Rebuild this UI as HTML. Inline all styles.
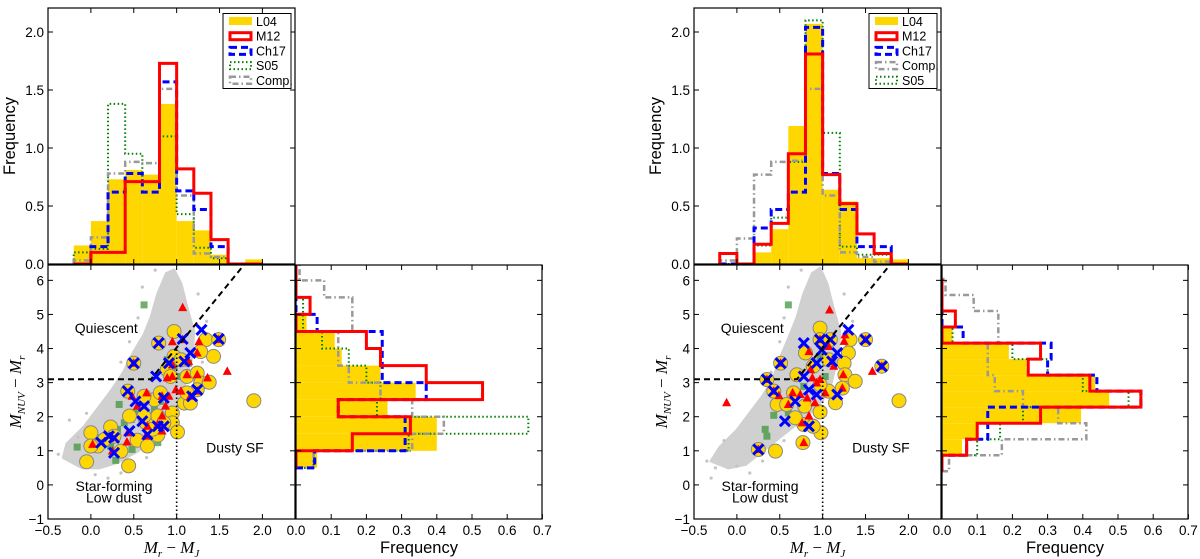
<!DOCTYPE html>
<html><head><meta charset="utf-8">
<style>
html,body{margin:0;padding:0;background:#fff;}
svg{display:block;font-family:"Liberation Sans",sans-serif;}
</style></head>
<body>
<svg id="fig" width="1200" height="559" viewBox="0 0 1200 559" xmlns="http://www.w3.org/2000/svg"></svg>
<script>
// ---------- DATA ----------
const topEdgesStart = -0.2, topBinW = 0.2;
// Left figure top histogram (bins -0.2..2.0)
const L_top_L04 = [0.16,0.37,0.73,0.81,0.77,1.38,0.37,0.29,0.08,0,0.04];
const L_top_M12 = [0,0.10,0.10,0.71,0.71,1.73,0.82,0.61,0.21,0,0];
const L_top_Ch17 = [0,0.15,0.62,0.78,0.62,1.57,0.63,0.47,0.15,0,0];
const L_top_S05 = [0.10,0.13,1.38,0.95,0.71,1.10,0.43,0.14,0.05,0,0];
const L_top_Comp = [0.03,0.23,0.78,0.88,0.87,1.51,0.59,0.09,0.06,0,0];
// Left figure side histogram (bins 0.5..6.5, width 0.5)
const L_sideStart = 0.5, L_sideW = 0.5;
const L_side_L04 = [0.06,0.40,0.40,0.26,0.34,0.24,0.13,0.11,0.03,0,0,0];
const L_side_M12 = [0,0.16,0.325,0.12,0.53,0.37,0.24,0.20,0,0.04,0,0];
const L_side_Ch17 = [0.053,0.31,0.31,0.12,0.37,0.245,0.245,0.245,0.06,0,0,0];
const L_side_S05 = [0.05,0.32,0.66,0.23,0.24,0.20,0.15,0.074,0.02,0.02,0,0];
const L_side_Comp = [0.05,0.33,0.42,0.33,0.24,0.15,0.12,0.12,0.16,0.16,0.08,0.01];
// Right figure top histogram
const R_top_L04 = [0,0,0.10,0.30,1.19,2.07,0.64,0.54,0.05,0.05,0.04];
const R_top_M12 = [0.09,0,0.17,0.35,0.95,1.81,0.77,0.52,0.26,0.09,0];
const R_top_Ch17 = [0,0,0.31,0.47,0.62,2.04,0.78,0.47,0.15,0.15,0];
const R_top_Comp = [0.03,0.22,0.77,0.88,0.89,1.51,0.59,0.10,0.06,0.02,0];
const R_top_S05 = [0,0,0.16,0.40,0.88,2.10,1.13,0.15,0.08,0.08,0];
// Right figure side histogram (bins from 0.40, width 0.47)
const R_sideStart = 0.40, R_sideW = 0.47;
const R_side_L04 = [0,0.057,0.10,0.395,0.475,0.435,0.24,0.19,0.03,0,0,0];
const R_side_M12 = [0,0.07,0.10,0.28,0.565,0.42,0.245,0.28,0,0.038,0,0];
const R_side_Ch17 = [0,0.07,0.13,0.13,0.565,0.44,0.30,0.31,0.06,0,0,0];
const R_side_S05 = [0,0.10,0.165,0.23,0.53,0.40,0.30,0.20,0.03,0,0,0];
const R_side_Comp = [0.02,0.17,0.41,0.33,0.23,0.15,0.13,0.13,0.16,0.16,0.09,0.01];
// Scatter data, left figure
const L_yelX=[0.0,-0.05,0.44,0.35,0.23,0.27,0.45,0.54,0.66,0.64,0.78,0.78,0.74,0.62,0.43,0.97,0.97,1.05,0.95,0.95,1.01,1.09,1.12,1.24,1.28,1.16,1.24,1.34,1.43,1.38,1.49,1.90,0.79,1.28,0.89,0.81,0.93,0.50,0.16,0.08,0.0,0.62,0.72,0.85,1.12];
const L_yelY=[1.53,0.68,0.56,0.99,1.70,1.43,2.02,1.31,1.14,1.84,1.46,2.02,2.50,2.60,2.75,4.50,3.77,3.67,2.11,1.82,1.55,2.40,3.18,3.28,2.99,2.40,2.79,4.26,3.77,3.01,4.26,2.47,4.16,3.91,3.38,2.70,3.18,3.57,1.33,1.14,1.14,2.02,1.63,1.82,2.70];
const L_triX=[0.5,0.95,1.07,1.26,1.59,1.24,1.12,1.24,0.95,0.89,0.91,0.83,0.87,0.65,0.48,0.54,0.66,0.78,0.83,0.83,0.43,0.42,0.02,0.25,0.64,1.24,1.16,1.05,1.14,1.36,0.95,0.99,1.49,1.07];
const L_triY=[3.57,4.2,5.2,4.2,3.33,3.87,3.23,3.23,3.52,3.14,2.6,2.6,2.31,2.7,2.6,2.31,1.72,1.77,2.02,1.58,1.53,1.26,1.19,0.99,1.43,2.75,2.6,2.75,3.62,3.14,3.18,2.79,4.26,4.26];
const L_crsX=[0.5,0.79,1.07,1.29,1.49,1.16,1.09,0.91,0.76,0.43,0.52,0.62,0.60,0.78,0.85,0.85,0.45,0.12,0.27,0.21,0.27,0.66,1.18,1.24];
const L_crsY=[3.57,4.16,4.28,4.55,4.28,3.87,3.62,3.57,3.18,2.75,2.45,2.31,1.87,1.72,1.72,2.55,1.58,1.24,1.38,1.43,0.94,1.48,2.6,2.79];
const L_sqX=[0.62,0.33,-0.16,0.0,0.48,0.78,0.29,0.23,0.31,0.47,0.54,0.39,0.74,0.97,1.05,0.89,1.14,0.81,0.23,0.12];
const L_sqY=[5.28,2.36,1.11,1.04,1.04,1.24,0.72,1.14,1.63,1.92,2.11,1.82,2.21,3.48,3.18,3.67,3.57,2.45,1.67,1.38];
const L_cloudX=[-0.32,-0.1,0.1,0.3,0.55,0.72,0.85,1.0,1.1,1.18,1.2,1.12,1.05,0.97,0.88,0.78,0.7,0.62,0.5,0.38,0.25,0.1,-0.08,-0.28];
const L_cloudY=[0.8,0.5,0.5,0.65,1.0,1.4,1.8,2.3,3.0,3.8,4.5,5.2,5.9,6.3,6.2,5.6,4.9,4.4,3.9,3.3,2.8,2.3,1.7,1.2];
const L_dotX=[-0.38,-0.25,-0.15,0.05,0.2,0.35,0.48,0.65,0.9,1.15,1.3,1.35,0.35,0.45,0.55,1.25,0.6,0.75,1.45,-0.05];
const L_dotY=[0.9,1.9,1.4,0.3,0.2,0.35,0.5,0.8,1.9,2.5,3.6,4.8,3.6,4.2,4.9,5.6,5.8,6.3,4.4,2.1];
// Scatter data, right figure
const R_yelX=[0.45,0.77,0.98,0.78,0.89,0.47,0.58,0.68,0.79,0.97,0.97,0.97,1.09,1.32,1.30,1.25,1.26,1.38,1.15,1.23,1.07,0.89,0.80,0.70,0.66,1.89,1.50,1.69,0.51,0.35,0.43,0.25,1.07,0.97];
const R_yelY=[0.99,1.24,1.53,1.77,1.72,2.36,2.36,1.97,2.31,2.14,4.6,4.26,4.26,4.26,3.87,3.57,3.23,3.04,2.41,2.84,2.75,3.48,3.87,3.23,2.70,2.47,4.26,3.48,3.57,3.09,2.75,1.04,3.67,2.94];
const R_triX=[-0.12,0.51,0.35,0.43,0.49,0.60,0.65,0.74,0.82,0.84,0.76,0.78,0.86,0.88,0.97,0.93,0.91,0.84,0.97,1.08,1.07,1.11,1.13,1.24,1.23,1.26,1.25,1.50,1.58,1.69,0.25,1.03];
const R_triY=[2.41,3.57,3.09,2.75,2.62,2.36,2.7,2.65,2.55,2.02,1.82,1.24,3.38,3.14,3.09,2.99,2.41,3.91,4.26,5.13,4.06,3.62,3.48,3.23,2.84,4.40,4.21,4.26,3.33,3.48,1.04,2.70];
const R_crsX=[0.35,0.51,0.43,0.56,0.68,0.78,0.97,1.09,1.30,1.17,1.11,0.93,0.78,0.84,0.93,1.17,0.84,1.50,1.69,0.25,0.99];
const R_crsY=[3.09,3.57,2.75,1.87,2.45,4.16,4.26,4.26,4.55,3.87,3.62,3.57,3.18,2.79,2.65,2.65,1.72,4.26,3.48,1.04,3.96];
const R_sqX=[0.60,0.43,0.33,0.35,0.47,0.60,0.78,0.97,1.03];
const R_sqY=[5.28,2.04,1.63,1.43,0.99,2.11,2.89,3.77,3.18];
const R_cloudX=[-0.3,-0.1,0.1,0.3,0.5,0.7,0.85,1.0,1.1,1.18,1.2,1.12,1.05,0.97,0.88,0.78,0.7,0.62,0.52,0.42,0.3,0.15,0.0,-0.2];
const R_cloudY=[0.7,0.5,0.6,1.0,1.4,1.8,2.1,2.5,3.0,3.8,4.5,5.2,5.9,6.35,6.2,5.6,4.9,4.4,3.8,3.1,2.6,2.1,1.6,1.1];
const R_dotX=[-0.35,-0.25,-0.15,0.0,0.15,0.3,0.45,0.55,0.9,1.15,1.3,1.35,0.4,0.5,0.55,1.25,0.6,0.75,1.45,-0.3];
const R_dotY=[0.7,0.5,1.3,0.55,0.35,0.7,0.9,1.3,1.9,2.5,3.6,4.8,3.3,4.2,4.9,5.6,5.8,6.3,4.4,0.2];

// ---------- DRAWING ----------
const NS="http://www.w3.org/2000/svg";
const svg=document.getElementById('fig');
function mk(tag,attrs,parent){const e=document.createElementNS(NS,tag);for(const k in attrs)e.setAttribute(k,attrs[k]);(parent||svg).appendChild(e);return e;}

const COL={L04:'#FFD700',M12:'#ff0000',Ch17:'#0000ff',S05:'#008000',Comp:'#999999'};
const STY={
 M12:{w:3,d:''},
 Ch17:{w:3,d:'7,4'},
 S05:{w:2,d:'1.5,2.5'},
 Comp:{w:2.5,d:'6,3,1.5,3'}
};

function drawFigure(id,ox,top,side,sideStart,sideW,sc,legendOrder,legX){
  const x0=ox, x1=ox+247, yT0=8, yT1=264, yS0=265, yS1=519, hx0=ox+248, hx1=ox+494;
  const xmin=-0.5,xmax=2.38,ymin=-1,ymax=6.45;
  const X=v=>x0+(v-xmin)/(xmax-xmin)*(x1-x0);
  const Y=v=>yS1-(v-ymin)/(ymax-ymin)*(yS1-yS0);
  const FT=f=>yT1-f*116;
  const FS=f=>hx0+f*352;
  const g=mk('g',{});
  
  
  const defs=mk('defs',{},g);
  const c1=mk('clipPath',{id:id+'-ct'},defs);mk('rect',{x:x0,y:yT0,width:x1-x0,height:yT1-yT0},c1);
  const c2=mk('clipPath',{id:id+'-cs'},defs);mk('rect',{x:x0,y:yS0,width:x1-x0,height:yS1-yS0},c2);
  const c3=mk('clipPath',{id:id+'-ch'},defs);mk('rect',{x:hx0,y:yS0,width:hx1-hx0,height:yS1-yS0},c3);

  // ----- top histogram -----
  const gt=mk('g',{'clip-path':`url(#${id}-ct)`},g);
  
  
  top.L04.forEach((v,i)=>{
    const a=topEdgesStart+i*topBinW;
    const r=mk('rect',{x:X(a),y:FT(v),width:X(a+topBinW)-X(a),height:FT(0)-FT(v),fill:COL.L04},gt);
    
    
  });
  ['S05','Comp','Ch17','M12'].forEach(k=>{
    const vals=top[k];let d=`M${X(topEdgesStart)},${FT(0)}`;
    vals.forEach((v,i)=>{const a=topEdgesStart+i*topBinW;d+=` L${X(a)},${FT(v)} L${X(a+topBinW)},${FT(v)}`;});
    d+=` L${X(topEdgesStart+vals.length*topBinW)},${FT(0)}`;
    const p=mk('path',{d:d,fill:'none',stroke:COL[k],'stroke-width':STY[k].w,'stroke-dasharray':STY[k].d},gt);
    
    
  });
  mk('rect',{x:x0,y:yT0,width:x1-x0,height:yT1-yT0,fill:'none',stroke:'#000','stroke-width':1.2},g);
  [0,0.5,1.0,1.5,2.0].forEach(t=>{
    mk('line',{x1:x0,x2:x0+5,y1:FT(t),y2:FT(t),stroke:'#000'},g);
    mk('line',{x1:x1,x2:x1-5,y1:FT(t),y2:FT(t),stroke:'#000'},g);
    const tx=mk('text',{x:x0-4,y:FT(t)+5,'text-anchor':'end','font-size':13.5},g);tx.textContent=t.toFixed(1);
    
    
  });
  [-0.5,0,0.5,1,1.5,2].forEach(t=>{
    mk('line',{x1:X(t),x2:X(t),y1:yT1,y2:yT1-5,stroke:'#000'},g);
    mk('line',{x1:X(t),x2:X(t),y1:yT0,y2:yT0+5,stroke:'#000'},g);
  });
  const yl=mk('text',{x:0,y:0,transform:`translate(${ox-33},${136}) rotate(-90)`,'text-anchor':'middle','font-size':16.5},g);
  yl.textContent='Frequency';
  
  

  // legend
  const lg=mk('g',{},g);
  
  
  mk('rect',{x:legX,y:13.5,width:68,height:75,fill:'#fff',stroke:'#000','stroke-width':1},lg);
  legendOrder.forEach((k,i)=>{
    const yy=21+i*14.7;
    const e=mk('g',{},lg);
    
    
    if(k==='L04') mk('rect',{x:legX+6,y:yy-4,width:23,height:8,fill:COL.L04},e);
    else mk('rect',{x:legX+7,y:yy-3,width:21,height:7,fill:'none',stroke:COL[k],'stroke-width':STY[k].w,'stroke-dasharray':STY[k].d},e);
    const t=mk('text',{x:legX+33,y:yy+5,'font-size':12.5},e);t.textContent=k==='Comp'?'Comp.':k;
  });

  // ----- scatter -----
  const gs=mk('g',{'clip-path':`url(#${id}-cs)`},g);
  
  
  let pts=sc.cloudX.map((v,i)=>X(v)+','+Y(sc.cloudY[i])).join(' ');
  const cl=mk('polygon',{points:pts,fill:'#d0d0d0',stroke:'#d0d0d0','stroke-width':3,'stroke-linejoin':'round'},gs);
  
  
  sc.dotX.forEach((v,i)=>{
    const c=mk('circle',{cx:X(v),cy:Y(sc.dotY[i]),r:1.6,fill:'#c4c4c4'},gs);
    
    
  });
  sc.sqX.forEach((v,i)=>{
    const r=mk('rect',{x:X(v)-3.5,y:Y(sc.sqY[i])-3.5,width:7,height:7,fill:'#3f963f','fill-opacity':0.75},gs);
    
    
  });
  sc.yelX.forEach((v,i)=>{
    const c=mk('circle',{cx:X(v),cy:Y(sc.yelY[i]),r:7,fill:'#FFD700',stroke:'#888','stroke-width':1},gs);
    
    
  });
  sc.triX.forEach((v,i)=>{
    const cx=X(v),cy=Y(sc.triY[i]);
    const t=mk('polygon',{points:`${cx},${cy-5} ${cx-4.5},${cy+3.5} ${cx+4.5},${cy+3.5}`,fill:'#ff0000'},gs);
    
    
  });
  sc.crsX.forEach((v,i)=>{
    const cx=X(v),cy=Y(sc.crsY[i]);
    const p=mk('path',{d:`M${cx-5},${cy-5}L${cx+5},${cy+5}M${cx-5},${cy+5}L${cx+5},${cy-5}`,stroke:'#0000ff','stroke-width':3},gs);
    
    
  });
  const dl=mk('path',{d:`M${X(-0.5)},${Y(3.1)} L${X(0.7)},${Y(3.1)} L${X(1.8)},${Y(6.5)}`,fill:'none',stroke:'#000','stroke-width':2,'stroke-dasharray':'6,4'},gs);
  
  
  const dv=mk('line',{x1:X(1.0),x2:X(1.0),y1:Y(-1),y2:Y(4.0),stroke:'#000','stroke-width':1.6,'stroke-dasharray':'1.5,2.5'},gs);
  
  
  [['Quiescent',0.18,4.45,'quiescent-label'],['Dusty SF',1.68,0.95,'dusty-sf-label'],['Star-forming',0.27,-0.18,'star-forming-label'],['Low dust',0.27,-0.52,'low-dust-label']].forEach(a=>{
    const t=mk('text',{x:X(a[1]),y:Y(a[2]),'text-anchor':'middle','font-size':14},g);t.textContent=a[0];
    
    
  });
  mk('rect',{x:x0,y:yS0,width:x1-x0,height:yS1-yS0,fill:'none',stroke:'#000','stroke-width':1.2},g);
  [-1,0,1,2,3,4,5,6].forEach(t=>{
    mk('line',{x1:x0,x2:x0+5,y1:Y(t),y2:Y(t),stroke:'#000'},g);
    mk('line',{x1:x1,x2:x1-5,y1:Y(t),y2:Y(t),stroke:'#000'},g);
    const tx=mk('text',{x:x0-4,y:Y(t)+5,'text-anchor':'end','font-size':13.5},g);tx.textContent=t<0?'\u2212'+Math.abs(t):t;
    
    
  });
  [-0.5,0,0.5,1,1.5,2].forEach(t=>{
    mk('line',{x1:X(t),x2:X(t),y1:yS1,y2:yS1-5,stroke:'#000'},g);
    mk('line',{x1:X(t),x2:X(t),y1:yS0,y2:yS0+5,stroke:'#000'},g);
    const tx=mk('text',{x:X(t),y:yS1+16,'text-anchor':'middle','font-size':13.5},g);tx.textContent=(t<0?'\u22120.5':t.toFixed(1));
    
    
  });
  const xl=mk('text',{x:(x0+x1)/2,y:553,'text-anchor':'middle','font-size':17,'font-family':'Liberation Serif, serif','font-style':'italic'},g);
  xl.innerHTML='M<tspan font-size="11" dy="4">r</tspan><tspan dy="-4" font-style="normal"> \u2212 </tspan>M<tspan font-size="11" dy="4">J</tspan>';
  
  
  const yl2=mk('text',{x:0,y:0,transform:`translate(${ox-27},${392}) rotate(-90)`,'text-anchor':'middle','font-size':17,'font-family':'Liberation Serif, serif','font-style':'italic'},g);
  yl2.innerHTML='M<tspan font-size="11" dy="4">NUV</tspan><tspan dy="-4" font-style="normal"> \u2212 </tspan>M<tspan font-size="11" dy="4">r</tspan>';
  
  

  // ----- side histogram -----
  const gh=mk('g',{'clip-path':`url(#${id}-ch)`},g);
  
  
  side.L04.forEach((v,i)=>{
    const a=sideStart+i*sideW;
    const r=mk('rect',{x:FS(0),y:Y(a+sideW),width:FS(v)-FS(0),height:Y(a)-Y(a+sideW),fill:COL.L04},gh);
    
    
  });
  ['S05','Comp','Ch17','M12'].forEach(k=>{
    const vals=side[k];let d=`M${FS(0)},${Y(sideStart)}`;
    vals.forEach((v,i)=>{const a=sideStart+i*sideW;d+=` L${FS(v)},${Y(a)} L${FS(v)},${Y(a+sideW)}`;});
    d+=` L${FS(0)},${Y(sideStart+vals.length*sideW)}`;
    const p=mk('path',{d:d,fill:'none',stroke:COL[k],'stroke-width':STY[k].w,'stroke-dasharray':STY[k].d},gh);
    
    
  });
  mk('rect',{x:hx0,y:yS0,width:hx1-hx0,height:yS1-yS0,fill:'none',stroke:'#000','stroke-width':1.2},g);
  [0,0.1,0.2,0.3,0.4,0.5,0.6,0.7].forEach(t=>{
    mk('line',{x1:FS(t),x2:FS(t),y1:yS1,y2:yS1-5,stroke:'#000'},g);
    mk('line',{x1:FS(t),x2:FS(t),y1:yS0,y2:yS0+5,stroke:'#000'},g);
    const tx=mk('text',{x:FS(t),y:yS1+16,'text-anchor':'middle','font-size':13.5},g);tx.textContent=t.toFixed(1);
    
    
  });
  [-1,0,1,2,3,4,5,6].forEach(t=>{
    mk('line',{x1:hx0,x2:hx0+5,y1:Y(t),y2:Y(t),stroke:'#000'},g);
    mk('line',{x1:hx1,x2:hx1-5,y1:Y(t),y2:Y(t),stroke:'#000'},g);
  });
  const fl=mk('text',{x:(hx0+hx1)/2,y:553,'text-anchor':'middle','font-size':16.5},g);
  fl.textContent='Frequency';
  
  
}

drawFigure('left-figure',48,
 {L04:L_top_L04,M12:L_top_M12,Ch17:L_top_Ch17,S05:L_top_S05,Comp:L_top_Comp},
 {L04:L_side_L04,M12:L_side_M12,Ch17:L_side_Ch17,S05:L_side_S05,Comp:L_side_Comp},
 L_sideStart,L_sideW,
 {yelX:L_yelX,yelY:L_yelY,triX:L_triX,triY:L_triY,crsX:L_crsX,crsY:L_crsY,sqX:L_sqX,sqY:L_sqY,cloudX:L_cloudX,cloudY:L_cloudY,dotX:L_dotX,dotY:L_dotY},
 ['L04','M12','Ch17','S05','Comp'],223);
drawFigure('right-figure',694,
 {L04:R_top_L04,M12:R_top_M12,Ch17:R_top_Ch17,S05:R_top_S05,Comp:R_top_Comp},
 {L04:R_side_L04,M12:R_side_M12,Ch17:R_side_Ch17,S05:R_side_S05,Comp:R_side_Comp},
 R_sideStart,R_sideW,
 {yelX:R_yelX,yelY:R_yelY,triX:R_triX,triY:R_triY,crsX:R_crsX,crsY:R_crsY,sqX:R_sqX,sqY:R_sqY,cloudX:R_cloudX,cloudY:R_cloudY,dotX:R_dotX,dotY:R_dotY},
 ['L04','M12','Ch17','Comp','S05'],869);
</script>
</body></html>
